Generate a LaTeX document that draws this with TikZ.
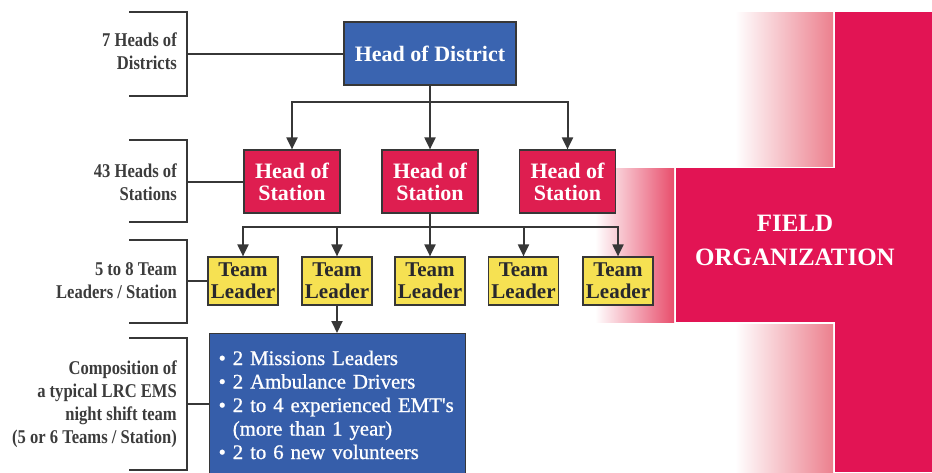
\documentclass[tikz,border=0pt]{standalone}
\usepackage{fontspec}
\setmainfont{Liberation Serif}
\newfontfamily\labelfont[FakeStretch=0.85]{Liberation Serif}
\newfontfamily\crewfont[FakeBold=0.8]{Liberation Serif}
\usetikzlibrary{arrows.meta}

\definecolor{distblue}{RGB}{58,100,176}
\definecolor{crewblue}{RGB}{54,94,170}
\definecolor{stationred}{RGB}{222,30,80}
\definecolor{crossred}{RGB}{226,20,84}
\definecolor{crossfade}{RGB}{236,128,142}
\definecolor{armfade}{RGB}{232,78,108}
\definecolor{tlyellow}{RGB}{246,225,82}
\definecolor{linegray}{RGB}{55,55,55}
\definecolor{labeltext}{RGB}{60,60,60}
\definecolor{leadertext}{RGB}{40,40,45}

\tikzset{
  box/.style={draw=linegray, line width=1.2pt, inner sep=0pt, align=center,
    font=\bfseries\fontsize{22}{22}\selectfont},
  district/.style={box, fill=distblue, text=white, minimum width=172pt, minimum height=63pt},
  station/.style={box, fill=stationred, text=white, minimum width=96pt, minimum height=63pt},
  leader/.style={box, fill=tlyellow, text=leadertext, minimum width=70pt, minimum height=48pt,
    font=\bfseries\fontsize{21}{22}\selectfont},
  crew/.style={draw=linegray, line width=1.2pt, fill=crewblue, text=white, align=left,
    anchor=north west, text width=238pt, inner xsep=9pt, inner ysep=17pt,
    font=\crewfont\fontsize{20.8}{23.5}\selectfont},
  link/.style={draw=linegray, line width=2pt},
  arrow/.style={link, -{Triangle[length=12pt,width=11pt]}},
  bracket/.style={draw=linegray, line width=2pt},
  sidelabel/.style={anchor=east, align=right, text=labeltext, inner sep=0pt,
    font=\labelfont\bfseries\fontsize{19.5}{23}\selectfont},
  fieldtext/.style={text=white, align=center, font=\bfseries\fontsize{25}{34}\selectfont}
}

\begin{document}
\begin{tikzpicture}[x=1pt,y=-1pt]
\useasboundingbox (0,0) rectangle (932,472);

% red cross with its faded left edges
\shade[left color=white, right color=crossfade] (735,12) rectangle (833,166);
\shade[left color=white, right color=crossfade] (735,324) rectangle (833,472);
\shade[left color=white, right color=armfade] (595,168) rectangle (674,322);
\fill[crossred] (835,12) rectangle (932,472);
\fill[crossred] (676,168) rectangle (835,322);
\node[fieldtext] (field) at (795,240) {FIELD\\ORGANIZATION};

% hierarchy boxes
\node[district] (hd) at (430,53.5) {Head of District};
\node[station] (s1) at (292,181.5) {Head of\\Station};
\node[station] (s2) at (430,181.5) {Head of\\Station};
\node[station] (s3) at (567.5,181.5) {Head of\\Station};
\node[leader] (t1) at (243,281) {Team\\Leader};
\node[leader] (t2) at (337,281) {Team\\Leader};
\node[leader] (t3) at (430,281) {Team\\Leader};
\node[leader] (t4) at (523.5,281) {Team\\Leader};
\node[leader] (t5) at (618,281) {Team\\Leader};
\node[crew] (team) at (209,333) {%
  \mbox{\textbullet\ 2 Missions Leaders}\\
  \mbox{\textbullet\ 2 Ambulance Drivers}\\
  \mbox{\textbullet\ 2 to 4 experienced EMT's}\\
  \mbox{\hphantom{\textbullet\ }(more than 1 year)}\\
  \mbox{\textbullet\ 2 to 6 new volunteers}};

% district to stations
\coordinate (dj) at (430,102);
\draw[link] (hd.south) -- (dj);
\draw[arrow] (dj) -| (s1.north);
\draw[arrow] (dj) -- (s2.north);
\draw[arrow] (dj) -| (s3.north);

% station to team leaders
\coordinate (sj) at (430,227);
\draw[link] (s2.south) -- (sj);
\draw[arrow] (sj) -| (t1.north);
\draw[arrow] (sj) -| (t2.north);
\draw[arrow] (sj) -- (t3.north);
\draw[arrow] (sj) -| (t4.north);
\draw[arrow] (sj) -| (t5.north);

% team leader to night shift team
\draw[arrow] (t2.south) -- (t2.south |- team.north);

% side brackets and their labels
\coordinate (b1a) at (129,12);  \coordinate (b1b) at (187,12);
\coordinate (b1c) at (187,96);  \coordinate (b1d) at (129,96);
\draw[bracket] (b1a) -- (b1b) -- (b1c) -- (b1d);
\coordinate (b1m) at (187,53.5);
\draw[link] (b1m) -- (hd.west);
\node[sidelabel] (l1) at (177,51.5) {7 Heads of\\Districts};

\coordinate (b2a) at (129,140); \coordinate (b2b) at (187,140);
\coordinate (b2c) at (187,222); \coordinate (b2d) at (129,222);
\draw[bracket] (b2a) -- (b2b) -- (b2c) -- (b2d);
\coordinate (b2m) at (187,181.5);
\draw[link] (b2m) -- (s1.west);
\node[sidelabel] (l2) at (177,182) {43 Heads of\\Stations};

\coordinate (b3a) at (129,240); \coordinate (b3b) at (187,240);
\coordinate (b3c) at (187,323); \coordinate (b3d) at (129,323);
\draw[bracket] (b3a) -- (b3b) -- (b3c) -- (b3d);
\coordinate (b3m) at (187,281);
\draw[link] (b3m) -- (t1.west);
\node[sidelabel] (l3) at (177,281) {5 to 8 Team\\Leaders / Station};

\coordinate (b4a) at (129,338); \coordinate (b4b) at (187,338);
\coordinate (b4c) at (187,470); \coordinate (b4d) at (129,470);
\draw[bracket] (b4a) -- (b4b) -- (b4c) -- (b4d);
\coordinate (b4m) at (187,404);
\draw[link] (b4m) -- (b4m -| team.west);
\node[sidelabel] (l4) at (177,404.5) {Composition of\\a typical LRC EMS\\night shift team\\(5 or 6 Teams / Station)};
\end{tikzpicture}
\end{document}
